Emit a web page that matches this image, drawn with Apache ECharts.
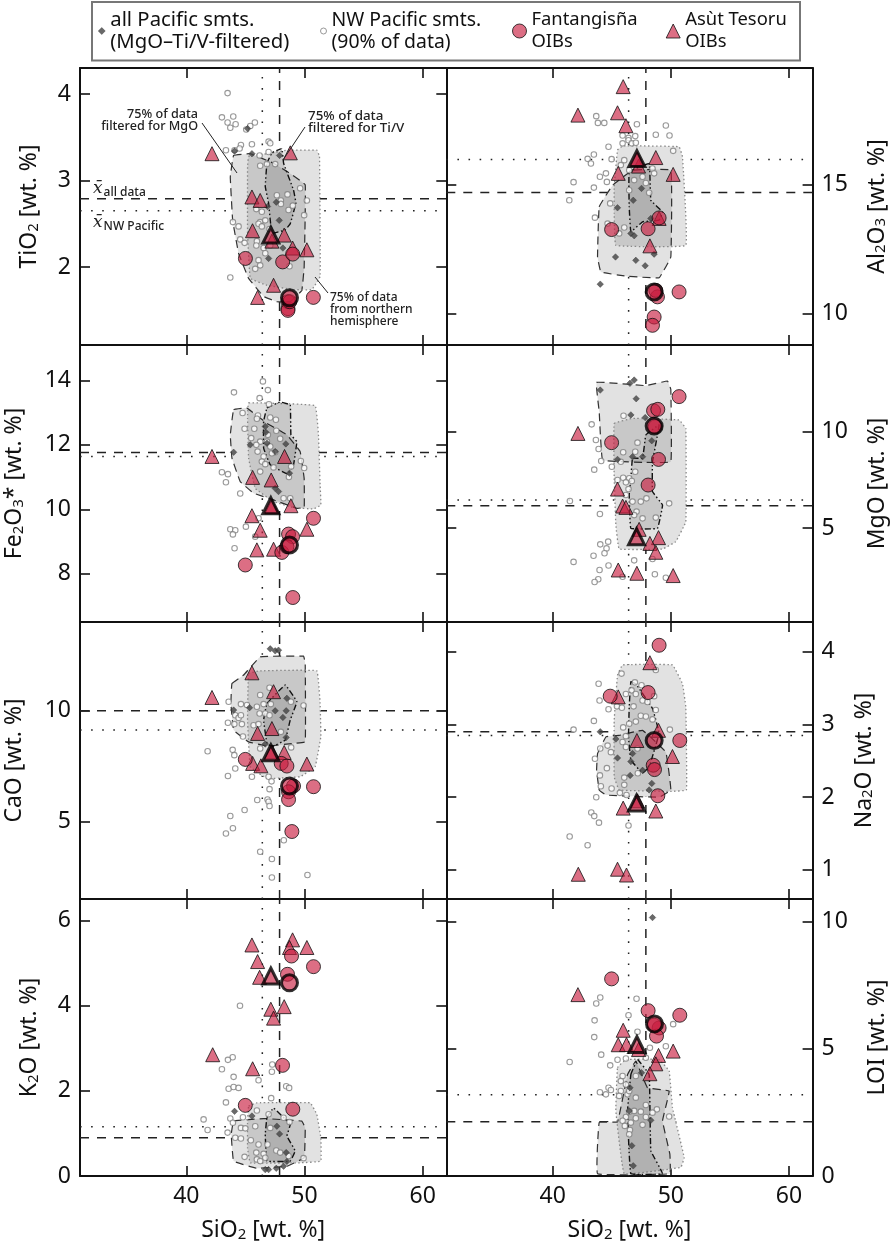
<!DOCTYPE html>
<html><head><meta charset="utf-8">
<style>html,body{margin:0;padding:0;background:#fff}#c{width:892px;height:1248px}</style>
<script src="https://cdn.jsdelivr.net/npm/echarts@6/dist/echarts.min.js"></script>
</head><body><div id="c"></div>
<script>
const sio2Means=[46.43,47.89];
const sio2Ticks=[40,50,60];
const tio2Ticks=[2,3,4], al2o3Ticks=[10,15], fe2o3Ticks=[8,10,12,14], mgoTicks=[5,10], caoTicks=[5,10], na2oTicks=[1,2,3,4], k2oTicks=[0,2,4,6], loiTicks=[0,5,10];

// TiO2
const tio2Fant=[[45.0,2.10],[48.15,2.06],[49.0,2.15],[50.75,1.65],[48.6,1.60],[48.6,1.52],[48.6,1.50],[48.75,1.60]];
const tio2Asut=[[42.17,3.31],[48.8,3.32],[45.55,2.81],[46.25,2.77],[45.6,2.42],[47.24,2.30],[48.28,2.37],[48.99,2.22],[50.2,2.20],[47.38,1.79],[46.03,1.65]];
const tio2MeanF=[[48.73,1.645]], tio2MeanA=[[47.15,2.37]];
const tio2NW=[[43.49,4.01],[43.01,3.73],[43.97,3.74],[43.49,3.67],[44.17,3.65],[43.72,3.61],[45.07,3.59],[45.41,3.63],[45.8,3.67],[43.35,3.35],[44.08,3.35],[44.62,3.41],[44.51,3.37],[45.55,3.42],[46.96,3.45],[47.1,3.43],[46.2,3.29],[46.96,3.33],[46.25,3.17],[46.82,3.19],[47.52,3.19],[49.63,2.91],[48.56,2.84],[48.0,2.77],[50.2,2.77],[47.66,2.83],[48.0,2.73],[45.92,2.67],[46.39,2.64],[48.65,2.66],[49.01,2.71],[49.97,2.6],[46.25,2.52],[46.68,2.54],[46.11,2.5],[43.94,2.52],[44.42,2.47],[46.39,2.47],[47.04,2.44],[44.56,2.32],[44.93,2.28],[45.97,2.3],[45.92,2.25],[46.54,2.22],[47.1,2.25],[46.68,2.16],[46.11,2.08],[46.25,2.02],[45.83,1.98],[48.73,2.01],[43.72,1.88]];
const tio2All=[[44.08,3.34],[45.55,3.31],[45.18,3.6],[46.87,2.7],[47.61,2.75],[47.86,2.54],[48.17,2.22],[46.96,2.1],[47.89,3.29]];
const tio2MgO=[[44.0,3.29],[45.41,3.31],[47.38,3.2],[48.79,3.08],[50.06,2.95],[49.97,2.0],[49.77,1.73],[48.79,1.6],[47.66,1.6],[46.54,1.66],[45.27,1.87],[44.42,2.16],[43.92,2.54],[43.72,3.04]];
const tio2North=[[45.27,3.28],[46.82,3.31],[48.51,3.35],[51.04,3.35],[51.27,3.28],[51.32,1.89],[50.62,1.74],[49.07,1.74],[46.82,1.79],[45.41,1.87],[45.18,2.39],[45.18,3.16]];
const tio2TiV=[[46.82,3.2],[47.24,3.32],[48.08,3.37],[48.23,3.2],[49.07,2.89],[49.27,2.74],[48.79,2.5],[48.37,2.43],[47.24,2.39],[46.96,2.74],[46.68,2.93]];
const tio2Means=[2.79,2.65];

// Al2O3
const al2o3Fant=[[44.99,13.26],[48.08,13.29],[49.01,13.71],[50.7,10.85],[48.87,10.66],[48.59,9.88],[48.45,9.56],[48.73,10.91]];
const al2o3Asut=[[45.97,18.78],[42.14,17.68],[45.49,17.77],[46.2,17.27],[47.27,15.71],[48.73,16.04],[45.55,15.43],[50.2,15.39],[48.23,12.63],[49.01,13.69],[47.18,15.97]];
const al2o3MeanF=[[48.59,10.85]], al2o3MeanA=[[47.13,16.0]];
const al2o3NW=[[43.69,17.64],[43.83,17.38],[44.37,17.38],[47.13,17.33],[49.58,17.28],[48.73,16.92],[49.89,16.89],[45.92,16.89],[46.42,16.8],[46.99,16.87],[45.92,16.59],[46.42,16.71],[46.7,16.59],[44.73,16.46],[47.04,16.61],[43.49,16.16],[42.96,15.99],[43.24,15.81],[44.99,15.98],[46.06,15.94],[50.2,16.3],[44.51,15.43],[44.0,15.3],[44.59,15.1],[41.77,15.09],[43.49,14.88],[41.41,14.39],[44.87,14.27],[43.58,13.72],[47.89,15.06],[46.9,15.17],[46.48,14.78],[45.77,15.75],[46.48,15.55],[48.45,15.62],[48.59,15.43],[47.61,15.3],[48.17,14.68],[45.63,13.11],[46.06,13.34],[44.65,13.49]];
const al2o3All=[[45.49,14.1],[46.82,14.39],[47.52,14.85],[46.62,13.11],[46.9,13.02],[48.31,13.69],[45.32,12.2],[47.04,12.07],[47.83,11.86],[48.59,12.31],[44.03,11.15]];
const al2o3MgO=[[43.94,14.14],[45.07,14.97],[46.76,15.55],[50,15.55],[50,12.2],[49.01,11.4],[46.2,11.46],[44.08,11.62],[43.8,12.2]];
const al2o3North=[[45.49,16.33],[45.92,16.49],[50.7,16.46],[50.99,16.07],[51.27,12.65],[45.35,12.65],[45.21,13.88],[45.21,14.91]];
const al2o3TiV=[[46.48,15.49],[48.17,15.81],[48.31,14.39],[49.3,13.94],[49.01,13.62],[47.61,13.56],[46.62,13.17],[46.48,14.14]];
const al2o3Means=[14.69,15.97];

// Fe2O3
const fe2o3Fant=[[44.99,8.27],[49.01,7.26],[50.76,9.72],[48.65,9.23],[48.99,9.15],[48.08,8.66],[48.51,8.84]];
const fe2o3Asut=[[42.17,11.64],[48.31,11.64],[45.61,10.99],[47.18,10.91],[48.85,10.11],[47.24,10.08],[45.55,9.8],[46.25,9.35],[50.2,9.38],[45.97,8.74],[47.38,8.76]];
const fe2o3MeanF=[[48.73,8.89]], fe2o3MeanA=[[47.15,10.11]];
const fe2o3NW=[[46.48,13.97],[46.9,13.7],[44.03,13.63],[46.2,13.45],[46.99,13.26],[44.76,12.99],[46.06,12.91],[45.97,12.81],[47.1,12.85],[47.58,12.78],[44.93,12.5],[45.75,12.5],[47.61,12.44],[46.9,12.31],[45.49,12.21],[47.94,12.19],[46.25,12.1],[46.82,12.1],[45.92,12.0],[47.1,11.95],[46.03,11.79],[47.52,11.77],[46.54,11.64],[47.24,11.74],[46.39,11.48],[46.68,11.4],[49.69,11.5],[48.87,11.33],[49.97,11.28],[47.38,11.3],[46.25,11.17],[43.01,11.15],[43.52,11.09],[43.35,10.84],[48.68,11.0],[44.56,10.49],[48.23,10.34],[48.79,10.34],[45.04,9.46],[43.72,9.38],[44.14,9.35],[43.94,9.22],[45.83,9.15],[44.08,8.79],[46.11,9.72]];
const fe2o3All=[[44,11.77],[46.68,12.57],[46.73,12.39],[45.41,12.0],[48.42,12.03],[47.52,11.79],[47.52,10.65],[47.8,10.55],[48.73,11.12],[46.82,12.05]];
const fe2o3MgO=[[44,13.09],[45.13,13.14],[46.82,12.67],[48.51,12.31],[49.63,11.79],[49.97,10.96],[49.97,10.05],[49.35,10.03],[47.38,10.29],[45.69,10.5],[44.56,10.86],[43.86,11.59],[43.72,12.31]];
const fe2o3North=[[45.27,13.3],[50.9,13.22],[51.18,12.31],[51.32,10.76],[51.38,10.13],[50.76,10.01],[49.07,10.05],[47.38,10.24],[45.83,10.65],[45.27,11.59],[45.18,12.83]];
const fe2o3TiV=[[46.82,13.14],[47.94,13.33],[48.79,13.24],[48.85,12.31],[49.35,12.1],[49.07,11.38],[48.56,11.09],[47.1,11.38],[46.54,11.9],[46.54,12.73]];
const fe2o3Means=[11.76,11.64];

// MgO
const mgoFant=[[50.7,11.82],[48.54,11.09],[48.9,11.16],[44.99,9.43],[48.96,8.56],[48.08,7.23],[48.68,10.26]];
const mgoAsut=[[42.14,9.91],[45.49,7.02],[45.92,6.14],[46.2,6.07],[47.32,4.93],[48.96,4.5],[48.23,4.2],[48.73,3.74],[45.55,2.82],[47.13,2.65],[50.2,2.53]];
const mgoMeanF=[[48.59,10.29]], mgoMeanA=[[47.1,4.55]];
const mgoNW=[[43.3,10.38],[43.66,9.57],[43.89,9.1],[46,10.83],[47.18,9.43],[44.11,8.48],[45.77,8.44],[45.97,8.93],[46.99,8.96],[43.52,8.03],[45.01,8.18],[46.99,7.92],[46.48,7.58],[45.97,7.61],[45.49,7.49],[46.2,7.37],[46.7,7.44],[46.42,7.02],[46.2,6.71],[47.94,6.54],[47.46,6.37],[46.76,6.37],[41.46,6.4],[49.86,6.28],[47.1,5.85],[44,5.73],[47.61,5.5],[48.73,5.54],[46.9,5.67],[44.7,4.29],[44.03,4.15],[44.56,3.94],[44.39,3.69],[43.46,3.56],[41.77,3.24],[46.9,3.32],[48.45,3.39],[44.73,3.05],[43.97,2.82],[43.86,2.34],[43.55,2.2],[48.65,2.6],[45.92,2.47],[49.58,2.42]];
const mgoAll=[[44.03,12.16],[46.54,12.51],[46.9,12.68],[47.07,11.71],[46.62,10.87],[47.83,10.73],[48.39,9.53],[47.61,8.7],[45.49,8.56],[46.76,8.7]];
const mgoMgO=[[43.72,12.56],[47.89,12.39],[49.72,12.63],[50,12.2],[50,8.44],[47.61,8.41],[44.23,8.53],[43.94,11.04]];
const mgoNorth=[[45.21,10.43],[46.76,10.69],[50.7,10.61],[51.27,10.17],[51.27,5.33],[50.42,4.29],[49.3,3.91],[45.63,3.91],[45.35,5.16],[45.21,7.58]];
const mgoTiV=[[46.76,8.62],[47.61,8.62],[47.89,9.83],[49.01,10.35],[48.45,8.44],[48.45,6.89],[49.3,6.19],[48.87,4.98],[46.62,4.98],[46.48,6.71],[46.62,7.58]];
const mgoMeans=[6.16,6.45];

// CaO
const caoFant=[[44.99,7.81],[48.03,7.63],[48.51,7.51],[49.07,6.61],[50.76,6.58],[48.65,6.35],[48.65,6.0],[48.93,4.56]];
const caoAsut=[[42.17,10.6],[45.55,11.71],[47.38,10.86],[47.24,9.2],[46.03,8.98],[48.28,8.12],[45.61,7.63],[46.31,7.52],[50.2,7.6],[47.24,8.15]];
const caoMeanF=[[48.73,6.61]], caoMeanA=[[47.15,8.11]];
const caoNW=[[43.58,10.41],[46.25,10.71],[47.04,11.04],[44.62,10.3],[45.13,10.26],[45.97,10.18],[46.54,10.3],[47.15,10.3],[48.85,10.41],[49.92,10.24],[46.2,9.88],[46.68,9.88],[47.04,9.8],[44.14,9.8],[44.42,9.68],[44.62,9.8],[43.52,9.46],[44.06,9.4],[44.7,9.4],[45.69,9.35],[46.11,9.4],[48,9.05],[44.79,8.84],[46.25,8.3],[43.92,8.24],[41.8,8.18],[48.87,8.35],[44.06,8.0],[44.14,7.4],[43.52,7.06],[45.55,7.03],[46.96,7.03],[47.21,6.82],[47.04,6.47],[46,5.98],[46.87,6.0],[46.96,5.9],[47.04,5.71],[44.93,5.53],[43.72,5.26],[43.94,4.71],[43.35,4.47],[48.25,4.17],[46.25,3.65],[47.24,3.32],[50.25,2.6],[47.24,2.49]];
const caoAll=[[47.1,12.79],[47.52,12.7],[47.8,12.73],[45.35,10.14],[47.52,10],[48.51,10.56],[48.45,10],[48.17,9.7],[48.45,8.8],[46.68,8.5],[44,10.03]];
const caoMgO=[[43.86,11.23],[44.85,11.61],[46.25,12.43],[49.92,12.46],[50.06,12.13],[50.06,8.6],[49.07,8.53],[46.82,8.41],[45.27,8.6],[44,9.13],[43.77,10.33]];
const caoNorth=[[45.27,11.68],[46.25,11.8],[51.04,11.8],[51.32,10.33],[51.38,8.83],[50.9,7.48],[49.63,7.03],[46.82,6.95],[45.41,7.48],[45.18,9.58]];
const caoTiV=[[46.82,10.33],[48.37,11.16],[49.35,10.41],[48.79,9.58],[48.37,8.68],[47.24,8.38],[46.82,8.53],[46.54,9.58]];
const caoMeans=[10,9.13];

// Na2O
const na2oFant=[[49.01,4.09],[48.08,3.44],[44.87,3.39],[50.76,2.78],[48.51,2.44],[48.62,2.38],[48.9,2.02]];
const na2oAsut=[[48.23,3.85],[45.55,3.38],[48.96,2.92],[47.13,2.78],[50.14,2.56],[45.97,1.85],[48.73,1.81],[45.49,1.01],[42.17,0.94],[46.25,0.93],[47.18,1.95]];
const na2oMeanF=[[48.59,2.78]], na2oMeanA=[[47.1,1.92]];
const na2oNW=[[48.73,3.75],[45.83,3.7],[43.89,3.56],[46.96,3.58],[47.52,3.54],[46.68,3.47],[46.2,3.42],[47.04,3.42],[43.97,3.33],[47.61,3.33],[48.03,3.31],[48.59,3.39],[48.73,3.2],[44.73,3.21],[45.44,3.25],[45.86,3.23],[46.85,3.25],[47.46,3.12],[47.89,3.11],[43.49,3.05],[48.45,3.07],[46.48,3.01],[47.04,3.04],[45.97,2.96],[41.77,2.93],[49.92,2.93],[46.2,2.84],[45.92,2.76],[44.65,2.71],[44.03,2.67],[46.2,2.69],[47.18,2.67],[44.93,2.62],[43.58,2.53],[44.59,2.4],[47.21,2.33],[44,2.3],[46.06,2.27],[44.08,2.15],[46.06,2.17],[44.99,2.12],[45.69,2.06],[46.25,2.03],[43.69,2],[43.27,1.79],[43.52,1.74],[43.92,1.65],[46.42,1.61],[41.44,1.46],[42.96,1.34]];
const na2oAll=[[44.03,2.9],[45.35,2.8],[45.49,2.54],[46.62,2.49],[47.61,2.37],[46.56,2.3],[48.39,2.19],[48.17,2.1],[46.76,2.6]];
const na2oMgO=[[43.8,2.6],[44.51,2.83],[45.63,2.85],[47.61,2.92],[49.58,2.62],[50,2.1],[49.01,2.0],[44.51,2.03],[43.94,2.1],[43.72,2.37]];
const na2oNorth=[[45.49,3.68],[45.92,3.82],[50.14,3.82],[50.99,3.56],[51.27,3.24],[51.32,2.1],[50,2.08],[45.63,2.1],[45.21,2.28],[45.21,3.06]];
const na2oTiV=[[46.62,3.59],[47.04,3.56],[48.45,3.22],[49.01,2.88],[48.17,2.42],[47.61,2.33],[46.62,2.51],[46.42,2.83],[46.48,3.24]];
const na2oMeans=[2.9,2.85];

// K2O
const k2oFant=[[48.9,5.17],[48.56,4.74],[50.76,4.92],[48.14,2.6],[44.99,1.66],[49.01,1.57]];
const k2oAsut=[[48.99,5.55],[48.73,5.37],[50.2,5.37],[45.55,5.43],[46.03,5.04],[46.2,4.67],[48.28,3.98],[47.15,3.92],[47.38,3.71],[42.23,2.85],[45.61,2.52]];
const k2oMeanF=[[48.73,4.54]], k2oMeanA=[[47.15,4.7]];
const k2oNW=[[44.54,4],[43.92,2.79],[43.52,2.73],[43.01,2.51],[47.27,2.62],[47.24,2.45],[44,2.33],[46.11,2.25],[43.58,2.05],[44,2.09],[44.42,2.07],[48.45,2.11],[48.7,2.07],[47.18,1.83],[43.35,1.73],[45.97,1.54],[41.46,1.33],[43.72,1.35],[44.79,1.38],[43.94,1.25],[41.8,1.08],[43.49,1.02],[44.62,1.13],[44.99,1.12],[45.83,1.17],[47.1,1.13],[46.96,1.45],[48.23,1.37],[48.73,1.27],[44.14,0.9],[44.62,0.88],[45.46,0.84],[46.11,0.74],[46.87,0.74],[45.92,0.55],[46.54,0.52],[47.61,0.6],[47.94,0.55],[44.93,0.45],[45.97,0.39],[46.68,0.43],[49.92,0.42],[48.65,0.47],[46.25,0.35]];
const k2oAll=[[44.08,1.52],[45.55,1.41],[47.66,1.17],[47.89,0.99],[48.45,0.55],[48.51,0.34],[48.23,0.23],[47.61,0.18],[46.96,0.15],[46.68,0.15]];
const k2oMgO=[[44,1.29],[46.54,1.35],[49.77,1.29],[50.06,1.13],[49.97,0.43],[48.51,0.23],[45.97,0.18],[44,0.35],[43.8,0.98]];
const k2oNorth=[[45.27,1.64],[45.97,1.72],[50.48,1.72],[51.04,1.45],[51.38,0.9],[51.38,0.35],[49.63,0.31],[45.41,0.31],[45.18,0.66],[45.18,1.29]];
const k2oTiV=[[46.82,1.37],[47.38,1.6],[48.79,1.21],[48.51,0.94],[49.21,0.59],[48.79,0.35],[46.82,0.35],[46.68,0.98]];
const k2oMeans=[0.9,1.16];

// LOI
const loiFant=[[44.99,7.75],[48.08,6.5],[50.76,6.32],[49.01,5.82],[48.79,5.5],[48.59,5.93]];
const loiAsut=[[42.14,7.13],[45.97,5.73],[45.55,5.16],[46.25,5.17],[47.27,4.97],[50.2,4.91],[48.96,4.74],[48.73,4.41],[48.23,4.02]];
const loiMeanF=[[48.62,5.98]], loiMeanA=[[47.13,5.17]];
const loiNW=[[44.03,7.02],[47.1,6.97],[43.69,6.78],[46.42,6.32],[43.55,6.12],[50.2,5.97],[47.18,5.67],[43.52,5.46],[49.58,5.1],[48.23,5.04],[44.11,4.77],[45.49,4.57],[46.2,4.62],[41.44,4.48],[44.87,4.35],[47.89,4.65],[47.04,3.93],[45.92,3.93],[45.77,3.73],[46.2,3.6],[44.73,3.47],[44.93,3.38],[44,3.29],[44.51,3.21],[45.77,3.34],[46.34,3.21],[45.63,3.15],[47.04,3.08],[46.48,3.34],[47.89,2.79],[48.82,2.62],[47.46,2.53],[46.9,2.56],[46.48,2.53],[48.45,2.49],[47.89,2.32],[49.86,2.34],[46.2,2.32],[47.04,2.27],[45.92,2.17],[46.62,2.1],[47.61,2.01],[46.11,1.97],[46.54,1.81],[46.48,1.64]];
const loiAll=[[48.45,10.16],[47.52,4.06],[46.54,3.47],[48.31,2.19],[46.7,1.19],[46.82,0.4],[46.48,2.56]];
const loiMgO=[[43.94,2.1],[45.49,2.13],[46.34,3.99],[47.04,4.52],[48.03,3.47],[49.86,3.34],[49.3,2.17],[49.92,0.86],[49.92,0.09],[43.8,0.09]];
const loiNorth=[[45.49,4.26],[46.2,4.58],[49.01,4.58],[49.86,4.13],[50.14,2.69],[51.13,0.73],[50.85,0.34],[46.06,0.09],[45.35,2.56]];
const loiTiV=[[46.62,3.99],[47.18,4.58],[48.17,3.99],[48.31,0.99],[49.3,0.09],[46.62,0.09],[46.34,2.56]];
const loiMeans=[2.13,3.19];

const FONT='"Noto Sans"';
const NAMES={all:'all Pacific smts.\n(MgO–Ti/V-filtered)',nw:'NW Pacific smts.\n(90% of data)',f:'Fantangisña\nOIBs',a:'Asùt Tesoru\nOIBs'};
const panels=[
 {name:'TiO{s|2} [wt. %]',min:1.1,max:4.3,ticks:tio2Ticks,f:tio2Fant,a:tio2Asut,mf:tio2MeanF,ma:tio2MeanA,nw:tio2NW,all:tio2All,mgo:tio2MgO,north:tio2North,tiv:tio2TiV,means:tio2Means,col:0,row:0,gap:39},
 {name:'Al{s|2}O{s|3} [wt. %]',min:8.8,max:19.5,ticks:al2o3Ticks,f:al2o3Fant,a:al2o3Asut,mf:al2o3MeanF,ma:al2o3MeanA,nw:al2o3NW,all:al2o3All,mgo:al2o3MgO,north:al2o3North,tiv:al2o3TiV,means:al2o3Means,col:1,row:0,gap:53},
 {name:'Fe{s|2}O{s|3}* [wt. %]',min:6.5,max:15.1,ticks:fe2o3Ticks,f:fe2o3Fant,a:fe2o3Asut,mf:fe2o3MeanF,ma:fe2o3MeanA,nw:fe2o3NW,all:fe2o3All,mgo:fe2o3MgO,north:fe2o3North,tiv:fe2o3TiV,means:fe2o3Means,col:0,row:1,gap:54},
 {name:'MgO [wt. %]',min:0.12,max:14.5,ticks:mgoTicks,f:mgoFant,a:mgoAsut,mf:mgoMeanF,ma:mgoMeanA,nw:mgoNW,all:mgoAll,mgo:mgoMgO,north:mgoNorth,tiv:mgoTiV,means:mgoMeans,col:1,row:1,gap:53},
 {name:'CaO [wt. %]',min:1.52,max:14,ticks:caoTicks,f:caoFant,a:caoAsut,mf:caoMeanF,ma:caoMeanA,nw:caoNW,all:caoAll,mgo:caoMgO,north:caoNorth,tiv:caoTiV,means:caoMeans,col:0,row:2,gap:54},
 {name:'Na{s|2}O [wt. %]',min:0.6,max:4.41,ticks:na2oTicks,f:na2oFant,a:na2oAsut,mf:na2oMeanF,ma:na2oMeanA,nw:na2oNW,all:na2oAll,mgo:na2oMgO,north:na2oNorth,tiv:na2oTiV,means:na2oMeans,col:1,row:2,gap:40},
 {name:'K{s|2}O [wt. %]',min:0,max:6.51,ticks:k2oTicks,f:k2oFant,a:k2oAsut,mf:k2oMeanF,ma:k2oMeanA,nw:k2oNW,all:k2oAll,mgo:k2oMgO,north:k2oNorth,tiv:k2oTiV,means:k2oMeans,col:0,row:3,gap:39},
 {name:'LOI [wt. %]',min:0,max:10.89,ticks:loiTicks,f:loiFant,a:loiAsut,mf:loiMeanF,ma:loiMeanA,nw:loiNW,all:loiAll,mgo:loiMgO,north:loiNorth,tiv:loiTiV,means:loiMeans,col:1,row:3,gap:53}
];
const XMIN=31,XMAX=62;
const spine={show:true,onZero:false,lineStyle:{color:'#111',width:2}};
const tickStyle=v=>({show:true,inside:true,length:10,lineStyle:{color:'#111',width:1.6},customValues:v});
const grids=[],xAxes=[],yAxes=[],series=[];
const RED='rgba(200,28,62,0.8)';
const LINE='#222';
function regionSeries(pts,xi,yi,style,fillOnly){
  return {type:'custom',coordinateSystem:'cartesian2d',xAxisIndex:xi,yAxisIndex:yi,silent:true,z:fillOnly?2:3,clip:true,
    data:pts,encode:{x:0,y:1},
    renderItem:function(params,api){
      if(params.dataIndex!==0) return null;
      return {type:'polygon',shape:{points:pts.map(p=>api.coord(p)),smooth:0.06},style:fillOnly?{fill:'#fff',stroke:null}:Object.assign({fill:'rgba(0,0,0,0.115)'},style)};
    }};
}
const nameStyle={fontFamily:FONT,fontSize:23,color:'#111',rich:{s:{fontFamily:FONT,fontSize:15,color:'#111',padding:[8,0,0,0]}}};
panels.forEach((p,i)=>{
  const xb=i*2,xt=i*2+1,yl=i*2,yr=i*2+1;
  grids.push({left:80+p.col*366.3,top:68+p.row*277,width:366.3,height:277,outerBoundsMode:'none'});
  const bottomRow=p.row===3;
  xAxes.push({gridIndex:i,type:'value',min:XMIN,max:XMAX,position:'bottom',axisLine:spine,splitLine:{show:false},axisTick:tickStyle(sio2Ticks),
    axisLabel:{show:bottomRow,customValues:sio2Ticks,color:'#111',fontFamily:FONT,fontSize:23,margin:9},
    name:bottomRow?'SiO{s|2} [wt. %]':'',nameLocation:'middle',nameGap:43,nameTextStyle:nameStyle});
  xAxes.push({gridIndex:i,type:'value',min:XMIN,max:XMAX,position:'top',axisLine:spine,splitLine:{show:false},axisTick:tickStyle(sio2Ticks),axisLabel:{show:false}});
  const labelled={show:true,customValues:p.ticks,color:'#111',fontFamily:FONT,fontSize:23,margin:9};
  const nameCfg={name:p.name,nameLocation:'middle',nameGap:p.gap,nameRotate:90,nameTextStyle:nameStyle};
  yAxes.push(Object.assign({gridIndex:i,type:'value',min:p.min,max:p.max,position:'left',axisLine:spine,splitLine:{show:false},axisTick:tickStyle(p.ticks),
    axisLabel:p.col===0?labelled:{show:false}},p.col===0?nameCfg:{}));
  yAxes.push(Object.assign({gridIndex:i,type:'value',min:p.min,max:p.max,position:'right',axisLine:spine,splitLine:{show:false},axisTick:tickStyle(p.ticks),
    axisLabel:p.col===1?labelled:{show:false}},p.col===1?nameCfg:{}));

  const ln=(data,dash)=>({type:'line',xAxisIndex:xb,yAxisIndex:yl,data,showSymbol:false,silent:true,z:1,lineStyle:{color:LINE,width:1.5,type:dash}});
  series.push(ln([[XMIN,p.means[0]],[XMAX,p.means[0]]],[9,8]));
  series.push(ln([[XMIN,p.means[1]],[XMAX,p.means[1]]],[1.6,9.5]));
  series.push(ln([[sio2Means[0],p.min],[sio2Means[0],p.max]],[1.6,9.5]));
  series.push(ln([[sio2Means[1],p.min],[sio2Means[1],p.max]],[9,8]));
  [p.mgo,p.north,p.tiv].forEach(r=>series.push(regionSeries(r,xb,yl,{},true)));
  series.push(regionSeries(p.mgo,xb,yl,{stroke:'#333',lineWidth:1.2,lineDash:[8,5]}));
  series.push(regionSeries(p.north,xb,yl,{stroke:'#888',lineWidth:1.3,lineDash:[1.5,2.5]}));
  series.push(regionSeries(p.tiv,xb,yl,{stroke:'#111',lineWidth:1.4,lineDash:[6,2.5,1.5,2.5,1.5,2.5]}));
  const sc=(name,data,symbol,size,style,z)=>({type:'scatter',name,xAxisIndex:xb,yAxisIndex:yl,data,symbol,symbolSize:size,itemStyle:style,z,silent:true});
  series.push(sc(NAMES.nw,p.nw,'circle',5.5,{color:'#fff',borderColor:'#808080',borderWidth:1.1},4));
  series.push(sc(NAMES.all,p.all,'diamond',6.5,{color:'#444',borderColor:'#333',borderWidth:0.5},5));
  series.push(sc(NAMES.a,p.a,'triangle',14,{color:RED,borderColor:'#111',borderWidth:1},6));
  series.push(sc(NAMES.f,p.f,'circle',14,{color:RED,borderColor:'#111',borderWidth:1},6));
  series.push(sc('Asùt Tesoru mean',p.ma,'triangle',16,{color:RED,borderColor:'#000',borderWidth:3},7));
  series.push(sc('Fantangisña mean',p.mf,'circle',16,{color:RED,borderColor:'#000',borderWidth:3},7));
});
const legendItem=(name,left,size,bw,fs)=>({data:[name],left,top:9,orient:'vertical',padding:0,itemWidth:size,itemHeight:size,selectedMode:false,
  itemStyle:{borderWidth:bw},
  textStyle:{fontFamily:FONT,fontSize:fs,color:'#111',lineHeight:22}});
const ann=(text,x,y,align,fs)=>({type:'text',silent:true,z:50,style:{text,x,y,textAlign:align||'left',font:'500 '+(fs||12.8)+'px '+FONT,fill:'#222',lineHeight:12}});
const seg=(x1,y1,x2,y2)=>({type:'line',silent:true,z:50,shape:{x1,y1,x2,y2},style:{stroke:'#222',lineWidth:1}});
const xbar=(label,x,y)=>({type:'text',silent:true,z:50,style:{x,y,text:'{a|x̄}{b|'+label+'}',rich:{a:{font:'italic 17px "DejaVu Serif"',fill:'#222'},b:{font:'500 12px '+FONT,fill:'#222',padding:[8,0,0,1]}}}});
const opt={animation:false,backgroundColor:'#fff',grid:grids,xAxis:xAxes,yAxis:yAxes,series,
  legend:[legendItem(NAMES.all,98,7,0.5,20.3),legendItem(NAMES.nw,320,6,1,19.4),legendItem(NAMES.f,512,14,1,18.4),legendItem(NAMES.a,665.7,14,1,18.4)],
  graphic:[
   {type:'rect',z:0,silent:true,shape:{x:92,y:2,width:708,height:58.5},style:{fill:'none',stroke:'#777',lineWidth:2}},
   ann('75% of data\nfiltered for MgO',198,108,'right',12.6),
   ann('75% of data\nfiltered for Ti/V',308,110,'left',13.4),
   ann('75% of data\nfrom northern\nhemisphere',330,292,'left',12),
   seg(202,123,237,173),seg(305,127,283,160),seg(315,277,328,293),
   xbar('all data',93,179),xbar('NW Pacific',93,213)
  ]};
echarts.init(document.getElementById('c')).setOption(opt);
</script></body></html>
